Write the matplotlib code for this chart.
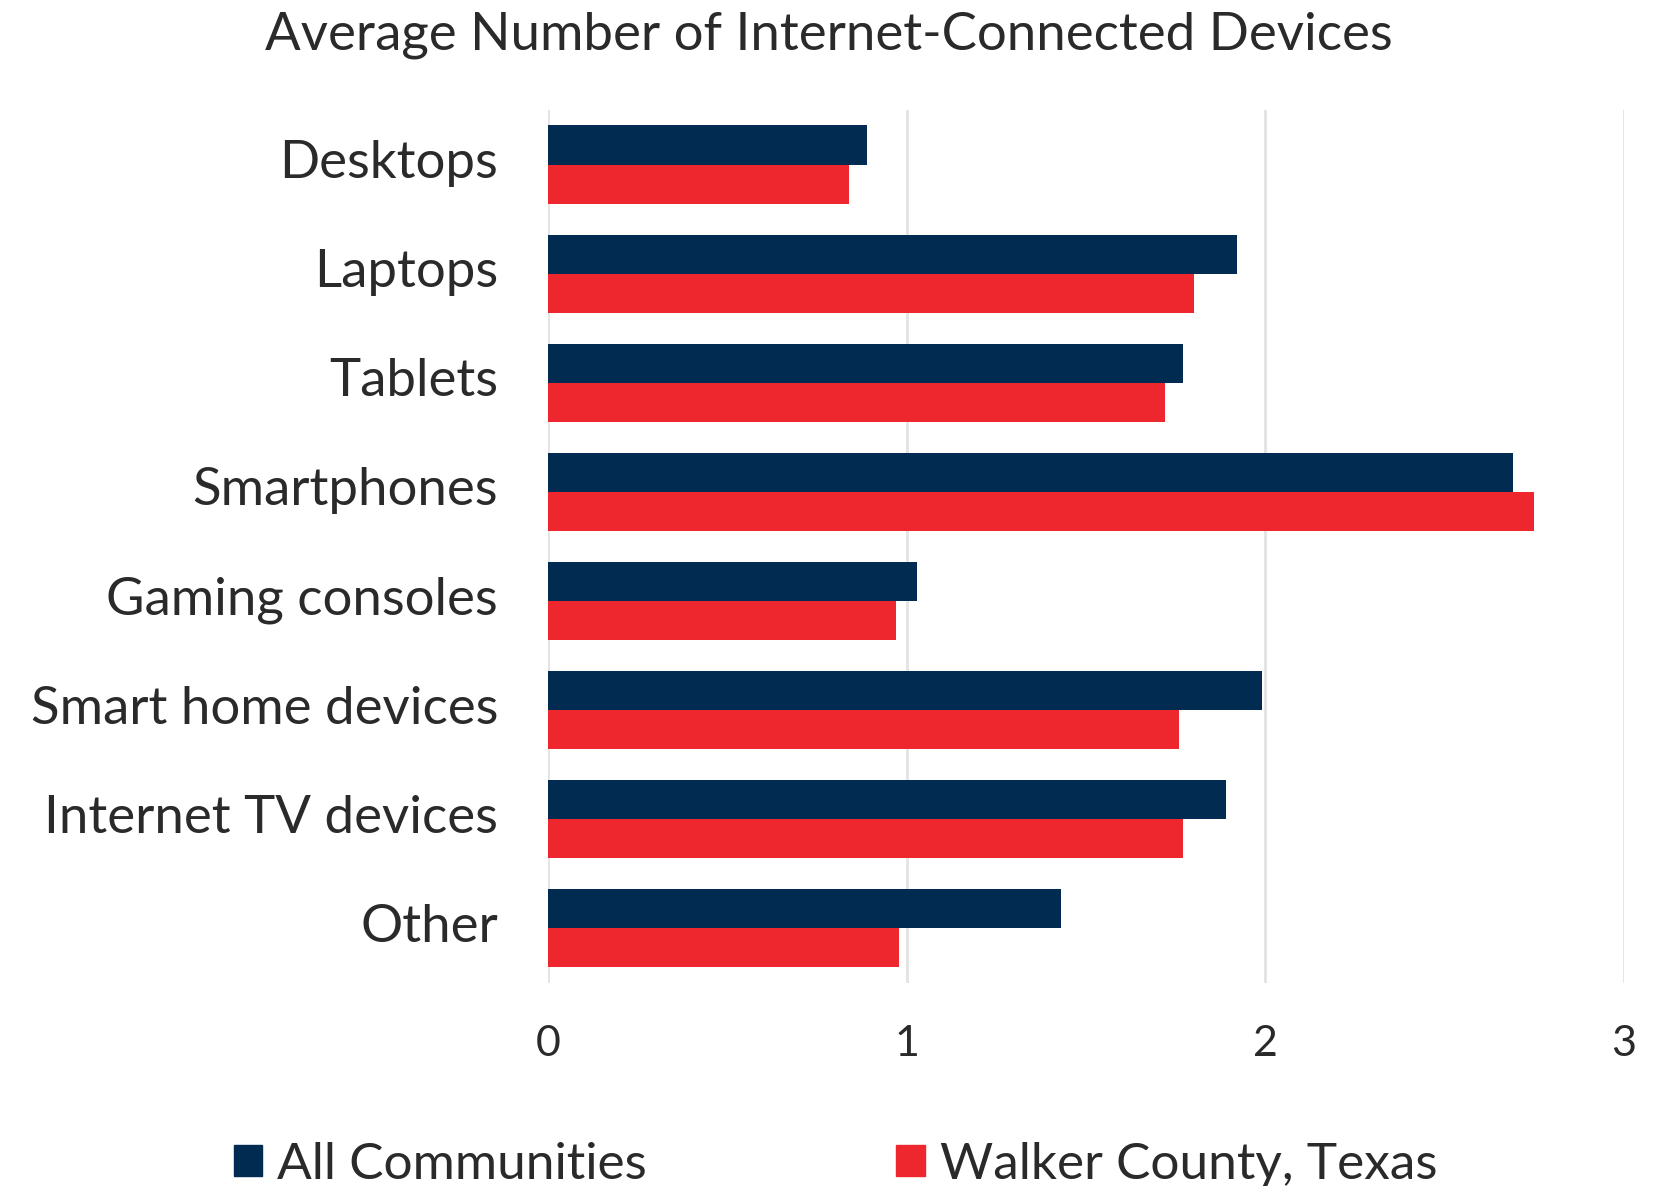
import matplotlib.pyplot as plt
import matplotlib.transforms as mtransforms
import numpy as np
from matplotlib.patches import Patch

# Average device counts per household
categories = [
    "Desktops",
    "Laptops",
    "Tablets",
    "Smartphones",
    "Gaming consoles",
    "Smart home devices",
    "Internet TV devices",
    "Other",
]
all_communities = [0.89, 1.92, 1.77, 2.69, 1.03, 1.99, 1.89, 1.43]
walker_county = [0.84, 1.80, 1.72, 2.75, 0.97, 1.76, 1.77, 0.98]
series_names = ["All Communities", "Walker County, Texas"]
x_ticks = [0, 1, 2, 3]

NAVY = "#012b51"
RED = "#ed272d"
TEXT = "#2a2a2a"

plt.rcParams["font.family"] = ["Lato", "DejaVu Sans"]

fig = plt.figure(figsize=(16.58, 11.86), dpi=100)
ax = fig.add_axes([0.3305, 0.1712, 0.649, 0.7361])

y = np.arange(len(categories))
h = 0.358
ax.barh(y - h / 2, all_communities, height=h, color=NAVY, zorder=3)
ax.barh(y + h / 2, walker_county, height=h, color=RED, zorder=3)

ax.set_xlim(0, 3)
ax.set_ylim(len(categories) - 0.5, -0.5)
ax.set_xticks(x_ticks)
ax.set_xticklabels([str(t) for t in x_ticks], fontsize=31, color=TEXT)
ax.set_yticks(y)
ax.set_yticklabels(categories, fontsize=38, color=TEXT)
ax.tick_params(axis="both", length=0)
ax.tick_params(axis="y", pad=36)
ax.tick_params(axis="x", pad=30)

# nudge category labels up a little
lift = mtransforms.ScaledTranslation(0, 0.055, fig.dpi_scale_trans)
for lbl in ax.get_yticklabels():
    lbl.set_transform(lbl.get_transform() + lift)

ax.grid(axis="x", color="#e3e3e3", linewidth=2, zorder=0)
for side in ax.spines.values():
    side.set_visible(False)

fig.suptitle("Average Number of Internet-Connected Devices", fontsize=38,
             color=TEXT, x=0.5, y=0.99, va="top", fontweight="normal")

handles = [Patch(color=NAVY), Patch(color=RED)]
fig.legend(handles, series_names, loc="center", bbox_to_anchor=(0.504, 0.018),
           ncol=2, frameon=False, fontsize=37, labelcolor=TEXT,
           handlelength=0.55, handleheight=0.55, handletextpad=0.3,
           columnspacing=4.85)

fig.savefig("out.png", dpi=100)
